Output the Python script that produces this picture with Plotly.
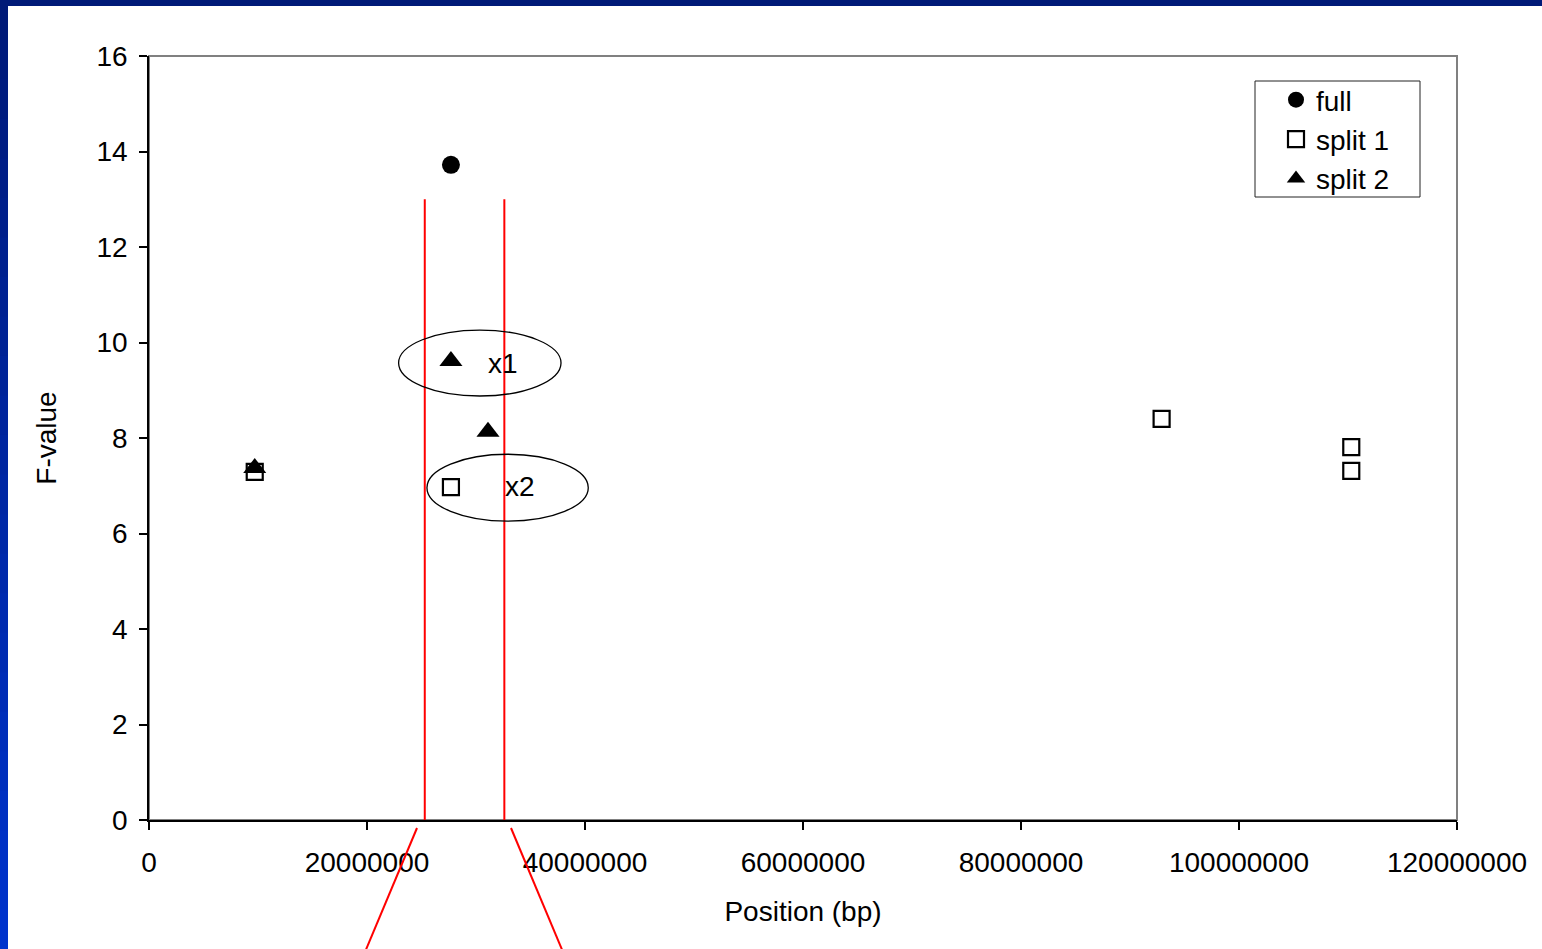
import plotly.graph_objects as go

# QTL scan: F-value by genomic position
full_pos = [27700000]
full_f = [13.72]

split1_pos = [9700000, 27700000, 92900000, 110300000, 110300000]
split1_f = [7.29, 6.97, 8.40, 7.81, 7.31]

split2_pos = [9700000, 27700000, 31100000]
split2_f = [7.37, 9.61, 8.13]

x_ticks = [0, 20000000, 40000000, 60000000, 80000000, 100000000, 120000000]
y_ticks = [0, 2, 4, 6, 8, 10, 12, 14, 16]

# highlighted interval and the two labelled peaks
interval = [25300000, 32600000]
interval_top = 13.0
peak_labels = ["x1", "x2"]
peak_label_pos = [(32500000, 9.57), (34000000, 6.99)]
peak_ellipses = [(22900000, 37800000, 8.88, 10.26), (25500000, 40300000, 6.26, 7.66)]

W, H = 1542, 949
L, R, T, B = 149, 85, 56, 129
PW, PH = W - L - R, H - T - B
FONT = "Arial, Liberation Sans, sans-serif"
FS = 28


def px(x):
    return (x - L) / PW


def py(y):
    return (H - B - y) / PH


fig = go.Figure()
fig.add_trace(go.Scatter(x=full_pos, y=full_f, mode="markers", name="full",
                         marker=dict(symbol="circle", size=18, color="black")))
fig.add_trace(go.Scatter(x=split1_pos, y=split1_f, mode="markers", name="split 1",
                         marker=dict(symbol="square-open", size=16, color="black",
                                     line=dict(width=2.2, color="black"))))
fig.add_trace(go.Scatter(x=split2_pos, y=split2_f, mode="markers", name="split 2",
                         marker=dict(symbol="triangle-up", size=20, color="black")))

shapes = []
# plot frame (top/right in grey)
shapes.append(dict(type="rect", xref="paper", yref="paper", x0=0, x1=1, y0=0, y1=1,
                   line=dict(color="#808080", width=2), layer="below"))
# slide border: navy top bar and blue gradient left bar
shapes.append(dict(type="rect", xref="paper", yref="paper", x0=px(0), x1=px(W),
                   y0=py(6), y1=py(0), fillcolor="#001a78", line=dict(width=0)))
n = 24
c0, c1 = (0, 26, 120), (0, 51, 204)
for i in range(n):
    t = i / (n - 1)
    col = "rgb(%d,%d,%d)" % tuple(round(a + (b - a) * t) for a, b in zip(c0, c1))
    shapes.append(dict(type="rect", xref="paper", yref="paper", x0=px(0), x1=px(8),
                       y0=py(H * (i + 1) / n + 1), y1=py(H * i / n),
                       fillcolor=col, line=dict(width=0)))
# interval lines
for xv in interval:
    shapes.append(dict(type="line", xref="x", yref="y", x0=xv, x1=xv, y0=interval_top, y1=-0.05,
                       line=dict(color="#ff0000", width=2)))
# zoom-out lines below the axis
shapes.append(dict(type="line", xref="paper", yref="paper", x0=px(417), y0=py(828),
                   x1=px(365), y1=py(952), line=dict(color="#ff0000", width=2)))
shapes.append(dict(type="line", xref="paper", yref="paper", x0=px(511), y0=py(828),
                   x1=px(563), y1=py(952), line=dict(color="#ff0000", width=2)))
# ellipses around peaks
for x0, x1, y0, y1 in peak_ellipses:
    shapes.append(dict(type="circle", xref="x", yref="y", x0=x0, x1=x1, y0=y0, y1=y1,
                       line=dict(color="black", width=1.3)))
# legend box
shapes.append(dict(type="rect", xref="paper", yref="paper", x0=px(1255), x1=px(1420),
                   y0=py(197), y1=py(81), line=dict(color="#222222", width=1),
                   fillcolor="white", layer="below"))

annotations = [dict(x=xp, y=yp, xref="x", yref="y", text=t, showarrow=False,
                    font=dict(family=FONT, size=FS, color="black"))
               for t, (xp, yp) in zip(peak_labels, peak_label_pos)]

fig.update_layout(
    width=W, height=H,
    margin=dict(l=L, r=R, t=T, b=B),
    paper_bgcolor="white", plot_bgcolor="white",
    font=dict(family=FONT, size=FS, color="black"),
    shapes=shapes,
    annotations=annotations,
    showlegend=True,
    legend=dict(x=px(1276), y=py(75), xanchor="left", yanchor="top",
                bgcolor="rgba(0,0,0,0)", borderwidth=0,
                font=dict(family=FONT, size=FS, color="black"),
                tracegroupgap=0),
    xaxis=dict(range=[0, 120000000], tickvals=x_ticks, ticktext=[str(v) for v in x_ticks],
               showgrid=False, zeroline=False, showline=True, linecolor="black", linewidth=1.5,
               ticks="outside", ticklen=8, tickwidth=1.5, tickcolor="black",
               ticklabelstandoff=9,
               title=dict(text="Position (bp)", standoff=24, font=dict(size=FS))),
    yaxis=dict(range=[0, 16], tickvals=y_ticks, showgrid=False, zeroline=False,
               showline=True, linecolor="black", linewidth=1.5,
               ticks="outside", ticklen=8, tickwidth=1.5, tickcolor="black",
               ticklabelstandoff=6,
               title=dict(text="F-value", standoff=32, font=dict(size=FS))),
)

fig.write_html("out.html")
